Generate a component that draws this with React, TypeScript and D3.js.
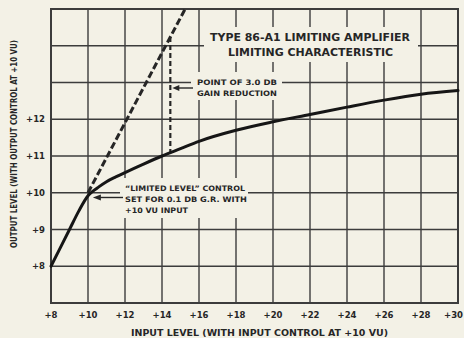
import React from 'react';
import * as d3 from 'd3';

// ---- data ----
const xTickValues = [8, 10, 12, 14, 16, 18, 20, 22, 24, 26, 28, 30];
const yTickValues = [8, 9, 10, 11, 12];
const yGridValues = [7, 8, 9, 10, 11, 12, 13, 14, 15];
const limitedInput = [8, 9, 9.5, 10, 10.25, 10.5, 11, 11.5, 12, 13, 14, 15, 16, 18, 20, 22, 24, 26, 28, 30];
const limitedOutput = [8, 9, 9.5, 9.92, 10.04, 10.13, 10.3, 10.43, 10.55, 10.78, 11.0, 11.2, 11.4, 11.7, 11.93, 12.13, 12.33, 12.52, 12.68, 12.78];
const linearInput = [10, 15.25];
const linearOutput = [10, 15];
const gainReductionInput = 14.45;
const kneeInput = 10.1;
const kneeOutput = 9.98;

const BG = '#f3f1e6';
const INK = '#262626';
const GRID = '#3c3c3c';
const FONT = '"DejaVu Sans", Verdana, sans-serif';
const NARROW = '"Liberation Sans Narrow", "DejaVu Sans Condensed", sans-serif';

export default function App() {
  const x = d3.scaleLinear().domain([8, 30]).range([51, 458]);
  const y = d3.scaleLinear().domain([7, 15]).range([303, 9]);

  const limitedPts: [number, number][] = limitedInput.map((v, i) => [v, limitedOutput[i]]);
  const linearPts: [number, number][] = linearInput.map((v, i) => [v, linearOutput[i]]);

  const line = d3
    .line<[number, number]>()
    .x((d) => x(d[0]))
    .y((d) => y(d[1]))
    .curve(d3.curveMonotoneX);
  const straight = d3
    .line<[number, number]>()
    .x((d) => x(d[0]))
    .y((d) => y(d[1]));

  const curveAt = d3.scaleLinear().domain(limitedInput).range(limitedOutput);
  const linAt = d3.scaleLinear().domain(linearInput).range(linearOutput);
  const grBottom = curveAt(gainReductionInput);
  const grTop = linAt(gainReductionInput);

  const gx = x(gainReductionInput);
  const kx = x(kneeInput);
  const ky = y(kneeOutput);
  const lastTick = xTickValues[xTickValues.length - 1];

  return (
    <svg
      width={464}
      height={338}
      style={{ position: 'absolute', left: 0, top: 0, display: 'block' }}
    >
      <rect x={0} y={0} width={464} height={338} fill={BG} />
      {/* grid */}
      <g stroke={GRID} strokeWidth={1.4}>
        {xTickValues.map((v) => (
          <line key={'vx' + v} x1={x(v)} x2={x(v)} y1={y(15)} y2={y(7)} />
        ))}
        {yGridValues.map((v) => (
          <line key={'hy' + v} x1={x(8)} x2={x(30)} y1={y(v)} y2={y(v)} />
        ))}
      </g>
      <rect x={x(8)} y={y(15)} width={x(30) - x(8)} height={y(7) - y(15)} fill="none" stroke={GRID} strokeWidth={2} />

      {/* label knock-outs */}
      <rect x={204} y={27} width={214} height={35} fill={BG} />
      <rect x={191} y={72} width={91} height={28} fill={BG} />
      <rect x={120} y={178} width={128} height={40} fill={BG} />

      {/* dashed linear reference */}
      <path
        d={straight(linearPts) || ''}
        fill="none"
        stroke={INK}
        strokeWidth={3}
        strokeDasharray="7 3"
      />
      {/* vertical dashed gain reduction */}
      <line
        x1={gx}
        x2={gx}
        y1={y(grTop)}
        y2={y(grBottom)}
        stroke={INK}
        strokeWidth={2.2}
        strokeDasharray="5 3"
      />
      {/* limiting curve */}
      <path d={line(limitedPts) || ''} fill="none" stroke="#161616" strokeWidth={3} strokeLinecap="round" />

      {/* arrows */}
      <g stroke={INK} fill={INK}>
        <line x1={193} x2={gx + 6} y1={88} y2={88} strokeWidth={1.4} />
        <path d={`M${gx + 2},88 L${gx + 9},85 L${gx + 9},91 Z`} stroke="none" />
        <line x1={123} x2={kx + 8} y1={ky + 4} y2={ky + 4} strokeWidth={1.4} />
        <path d={`M${kx + 3},${ky + 4} L${kx + 11},${ky + 1} L${kx + 11},${ky + 7} Z`} stroke="none" />
      </g>

      {/* texts */}
      <g fill={INK} fontFamily={FONT} fontWeight="bold">
        <text x={310} y={41} fontSize={10} textAnchor="middle" textLength={200} lengthAdjust="spacingAndGlyphs">
          TYPE 86-A1 LIMITING AMPLIFIER
        </text>
        <text x={310.5} y={56} fontSize={10} textAnchor="middle" textLength={165} lengthAdjust="spacingAndGlyphs">
          LIMITING CHARACTERISTIC
        </text>
        <text x={197} y={85} fontSize={7.5} textLength={80} lengthAdjust="spacingAndGlyphs">
          POINT OF 3.0 DB
        </text>
        <text x={197} y={96} fontSize={7.5} textLength={80} lengthAdjust="spacingAndGlyphs">
          GAIN REDUCTION
        </text>
        <text x={125} y={191} fontSize={7.5} textLength={120} lengthAdjust="spacingAndGlyphs">
          “LIMITED LEVEL” CONTROL
        </text>
        <text x={125} y={202} fontSize={7.5} textLength={122} lengthAdjust="spacingAndGlyphs">
          SET FOR 0.1 DB G.R. WITH
        </text>
        <text x={125} y={213} fontSize={7.5} textLength={63} lengthAdjust="spacingAndGlyphs">
          +10 VU INPUT
        </text>

        {xTickValues.map((v) => (
          <text
            key={'xt' + v}
            x={v === lastTick ? 463 : x(v)}
            y={318}
            fontSize={8.5}
            textAnchor={v === lastTick ? 'end' : 'middle'}
          >
            {'+' + v}
          </text>
        ))}
        {yTickValues.map((v) => (
          <text key={'yt' + v} x={45} y={y(v) + 3} fontSize={8.5} textAnchor="end">
            {'+' + v}
          </text>
        ))}
        <text x={259.5} y={336} fontSize={8.5} textAnchor="middle" textLength={257} lengthAdjust="spacingAndGlyphs">
          INPUT LEVEL (WITH INPUT CONTROL AT +10 VU)
        </text>
        <text
          transform="translate(17,144) rotate(-90)"
          fontFamily={NARROW}
          fontSize={8.5}
          textAnchor="middle"
          textLength={208}
          lengthAdjust="spacingAndGlyphs"
        >
          OUTPUT LEVEL (WITH OUTPUT CONTROL AT +10 VU)
        </text>
      </g>
    </svg>
  );
}
